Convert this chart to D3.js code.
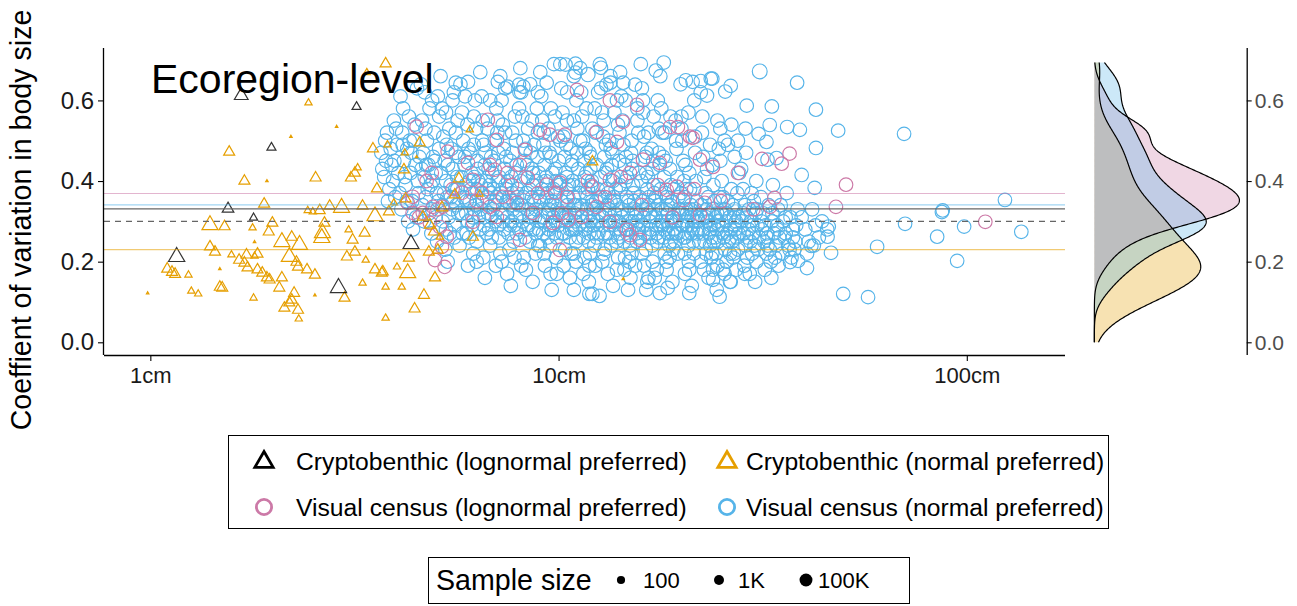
<!DOCTYPE html>
<html><head><meta charset="utf-8">
<script src="https://cdn.jsdelivr.net/npm/d3@7"></script>
<style>
body{margin:0;background:#fff}
svg text{font-family:"Liberation Sans",Arial,Helvetica,sans-serif}
</style></head><body>
<svg id="chart" width="1297" height="606"></svg>
<script>
// Each point: [mean body length (cm), coefficient of variation in body size, sample size]
// Visual-census points without a third value use the typical census sample size.
const typicalCensusN = 1e4;

const cryptoLognormal = [
  [1.67,0.612,300],[3.20,0.584,12],[1.98,0.483,12],[1.55,0.331,60],[1.79,0.309,8],
  [1.16,0.212,3000],[2.89,0.135,3000],[4.35,0.244,2000]
];

const cryptoNormal = [
  [3.77,0.691,40],[3.39,0.669,5],[2.44,0.594,5],[2.86,0.535,1.2],[2.21,0.51,1.2],[1.56,0.472,40],
  [3.51,0.48,40],[3.81,0.49,5],[4.18,0.428,40],[3.22,0.433,5],[3.17,0.42,40],[3.10,0.408,40],
  [2.54,0.408,40],[1.70,0.40,40],[1.93,0.40,1.2],[3.59,0.381,40],[1.90,0.343,40],[2.43,0.327,5],
  [2.50,0.324,5],[2.60,0.327,40],[2.75,0.338,40],[2.94,0.334,2500],[3.31,0.338,40],[3.55,0.313,2500],
  [3.84,0.324,40],[3.95,0.346,5],[4.22,0.356,40],[1.40,0.291,2500],[1.52,0.287,40],[1.78,0.284,5],
  [1.99,0.296,40],[1.95,0.274,40],[2.67,0.296,40],[2.64,0.271,2500],[2.63,0.259,2500],[3.06,0.279,5],
  [3.35,0.271,40],[1.40,0.237,40],[2.10,0.249,2500],[2.22,0.261,40],[2.32,0.242,2500],[3.13,0.254,40],
  [1.44,0.224,40],[1.58,0.217,5],[1.80,0.249,1.2],[1.72,0.217,40],[1.80,0.214,5],[1.83,0.219,40],
  [2.19,0.212,2500],[3.03,0.212,40],[3.17,0.224,40],[3.43,0.232,1.2],[3.37,0.204,5],[4.30,0.209,40],
  [1.65,0.204,40],[1.70,0.197,40],[1.73,0.185,40],[2.28,0.199,40],[2.30,0.187,40],[1.10,0.182,40],
  [1.13,0.174,40],[1.15,0.169,40],[1.24,0.167,5],[1.48,0.182,1.2],[1.83,0.18,40],[1.88,0.172,40],
  [1.93,0.16,40],[1.96,0.155,40],[2.10,0.16,40],[2.42,0.18,40],[2.53,0.167,40],[3.55,0.18,40],
  [3.69,0.172,40],[4.02,0.187,5],[4.27,0.172,2500],[4.98,0.16,40],[1.48,0.137,40],[1.50,0.135,40],
  [1.26,0.127,5],[1.31,0.12,5],[0.985,0.122,1.2],[2.07,0.135,40],[2.25,0.122,40],[2.22,0.105,40],
  [2.19,0.098,40],[2.13,0.085,40],[2.30,0.08,40],[2.31,0.058,5],[2.99,0.11,40],[3.31,0.147,5],
  [3.77,0.137,5],[3.77,0.06,5],[4.13,0.137,5],[4.44,0.083,40],[4.68,0.117,40],[1.79,0.11,5],
  [2.53,0.117,1.2],[4.20,0.47,5],[4.49,0.46,1.2],[4.57,0.495,40],[5.70,0.406,40],[6.06,0.527,5],
  [5.57,0.366,40],[6.41,0.368,5],[12.1,0.448,40],[5.18,0.334,40],[4.65,0.311,40],[4.84,0.291,40],
  [4.95,0.274,40],[5.12,0.261,5],[6.17,0.261,40],[4.81,0.224,40],[5.06,0.229,40],[3.71,0.175,40],
  [14.4,0.157,1.2]
];

const visualLognormal = [
  [11.09,0.626],[13.36,0.60],[15.56,0.589],[14.38,0.547],[18.74,0.534],[19.6,0.534],[21.3,0.507],
  [13.9,0.497],[12.4,0.522],[9.52,0.515],[10.36,0.515],[9.0,0.527],[6.71,0.552],[7.06,0.502],
  [4.49,0.535],[5.35,0.473],[8.27,0.477],[8.04,0.44],[6.0,0.445],[4.89,0.42],[6.79,0.44],[6.98,0.428],
  [7.69,0.39],[8.41,0.408],[9.35,0.391],[10.07,0.396],[10.48,0.361],[9.8,0.371],[12.4,0.336],
  [11.4,0.311],[12.1,0.386],[13.36,0.403],[14.95,0.42],[16.1,0.453],[17.7,0.445],[18.4,0.378],
  [19.5,0.386],[20.2,0.353],[14.7,0.279],[14.95,0.266],[13.36,0.299],[10.56,0.304],[9.68,0.296],
  [8.65,0.321],[7.9,0.346],[7.3,0.361],[6.49,0.371],[6.17,0.403],[5.8,0.371],[5.2,0.336],[4.92,0.336],
  [4.65,0.321],[4.39,0.321],[4.27,0.346],[4.39,0.361],[4.84,0.296],[5.12,0.286],[5.32,0.262],
  [5.18,0.237],[4.98,0.204],[5.26,0.187],[6.17,0.299],[6.79,0.336],[7.06,0.311],[22.8,0.346],
  [22.2,0.453],[20.98,0.51],[23.9,0.435],[31.5,0.455],[36.8,0.468],[35.2,0.443],[50.6,0.391],
  [47.8,0.336],[111,0.299],[33.8,0.358],[32.95,0.336],[22.2,0.316],[10.07,0.229],[8.04,0.254],
  [15.82,0.254],
  [4.55,0.31],[4.75,0.40],[5.05,0.33],[5.5,0.38],[6.3,0.35],[7.5,0.42],[8.9,0.37],[10.2,0.32],
  [11.8,0.40],[13.0,0.36],[14.2,0.41],[16.0,0.34],[17.5,0.39],[19.0,0.31],[21.5,0.38],[25.0,0.35],
  [27.5,0.42],[30.0,0.33]
];

const visualNormal = [
  [3.68,0.47],[3.74,0.41],[3.8,0.52],[3.85,0.38],[3.9,0.44],[3.95,0.55],[3.98,0.36],[4.02,0.49],[4.05,0.42],[3.78,0.45],
  [4.1,0.61],[4.14,0.52],[4.18,0.45],[4.22,0.39],[4.26,0.48],[4.3,0.56],[4.34,0.42],[4.38,0.35],[4.42,0.5],[4.46,0.44],
  [4.5,0.63],[4.54,0.37],[4.12,0.33],[4.2,0.41],[4.28,0.3],[4.36,0.47],[4.44,0.54],[4.52,0.4],[4.16,0.58],[4.4,0.28],
  [4.6,0.64],[4.63,0.55],[4.66,0.47],[4.7,0.41],[4.73,0.36],[4.76,0.5],[4.8,0.44],[4.83,0.58],[4.86,0.39],[4.9,0.33],
  [4.93,0.46],[4.96,0.52],[5.0,0.42],[5.03,0.37],[5.06,0.61],[5.1,0.48],[4.62,0.43],[4.68,0.3],[4.78,0.38],[4.88,0.27],
  [4.98,0.45],[5.08,0.35],[4.72,0.53],[4.92,0.4],[5.04,0.25],
  [5.14,0.66],[5.18,0.58],[5.22,0.51],[5.26,0.45],[5.3,0.4],[5.34,0.36],[5.38,0.31],[5.42,0.27],[5.46,0.48],[5.5,0.43],
  [5.54,0.62],[5.58,0.38],[5.62,0.34],[5.66,0.55],[5.7,0.46],[5.16,0.42],[5.24,0.37],[5.32,0.49],[5.4,0.53],[5.48,0.33],
  [5.56,0.29],[5.64,0.41],[5.72,0.24],[5.2,0.3],[5.28,0.23],[5.36,0.44],[5.44,0.39],[5.52,0.35],[5.6,0.47],[5.68,0.32],
  [5.35,0.2],[5.5,0.6],
  [5.75,0.64],[5.8,0.57],[5.84,0.5],[5.88,0.44],[5.92,0.39],[5.96,0.35],[6.0,0.3],[6.04,0.26],[6.08,0.47],[6.12,0.42],
  [6.16,0.37],[6.2,0.33],[6.24,0.6],[6.28,0.53],[6.32,0.45],[6.36,0.4],[6.4,0.28],[5.78,0.41],[5.86,0.36],[5.94,0.32],
  [6.02,0.48],[6.1,0.38],[6.18,0.22],[6.26,0.34],[6.34,0.43],[5.82,0.27],[5.9,0.46],[5.98,0.54],[6.06,0.35],[6.14,0.29],
  [6.22,0.41],[6.3,0.38],[6.38,0.31],[6.0,0.19],[6.2,0.49],
  [6.43,0.67],[6.48,0.61],[6.52,0.55],[6.56,0.49],[6.6,0.44],[6.64,0.4],[6.68,0.36],[6.72,0.32],[6.76,0.28],[6.8,0.24],
  [6.84,0.46],[6.88,0.42],[6.92,0.38],[6.96,0.34],[7.0,0.3],[7.04,0.58],[7.08,0.52],[7.12,0.47],[7.16,0.41],[6.45,0.39],
  [6.5,0.35],[6.58,0.31],[6.66,0.27],[6.74,0.43],[6.82,0.37],[6.9,0.33],[6.98,0.5],[7.06,0.36],[7.14,0.29],[6.54,0.21],
  [6.62,0.47],[6.7,0.53],[6.78,0.39],[6.86,0.26],[6.94,0.45],[7.02,0.19],[7.1,0.4],[6.6,0.16],
  [7.2,0.66],[7.25,0.6],[7.3,0.54],[7.34,0.48],[7.38,0.43],[7.42,0.39],[7.46,0.35],[7.5,0.31],[7.54,0.27],[7.58,0.23],
  [7.62,0.45],[7.66,0.41],[7.7,0.37],[7.74,0.33],[7.78,0.29],[7.82,0.56],[7.86,0.5],[7.9,0.44],[7.94,0.38],[7.98,0.34],
  [8.02,0.62],[7.22,0.37],[7.28,0.32],[7.36,0.28],[7.44,0.46],[7.52,0.4],[7.6,0.34],[7.68,0.3],[7.76,0.25],[7.84,0.42],
  [7.92,0.36],[8.0,0.28],[7.26,0.2],[7.4,0.52],[7.56,0.36],[7.72,0.47],[7.88,0.31],[7.48,0.17],[7.8,0.21],[7.64,0.14],
  [8.06,0.68],[8.1,0.62],[8.15,0.56],[8.2,0.5],[8.25,0.45],[8.3,0.41],[8.35,0.37],[8.4,0.33],[8.45,0.29],[8.5,0.25],
  [8.55,0.47],[8.6,0.43],[8.65,0.39],[8.7,0.35],[8.75,0.31],[8.8,0.27],[8.85,0.58],[8.9,0.52],[8.95,0.42],[8.98,0.36],
  [8.08,0.4],[8.12,0.34],[8.18,0.3],[8.28,0.26],[8.38,0.44],[8.48,0.38],[8.58,0.32],[8.68,0.28],[8.78,0.22],[8.88,0.46],
  [8.96,0.3],[8.22,0.21],[8.42,0.53],[8.62,0.36],[8.82,0.4],[8.32,0.18],[8.72,0.49],[8.92,0.24],[8.52,0.64],[8.64,0.15],
  [9.02,0.67],[9.07,0.61],[9.12,0.55],[9.18,0.49],[9.24,0.44],[9.3,0.4],[9.36,0.36],[9.42,0.32],[9.48,0.28],[9.54,0.24],
  [9.6,0.46],[9.66,0.42],[9.72,0.38],[9.78,0.34],[9.84,0.3],[9.9,0.26],[9.96,0.51],[10.02,0.45],[10.06,0.39],[9.04,0.35],
  [9.1,0.31],[9.16,0.27],[9.22,0.22],[9.28,0.47],[9.34,0.41],[9.4,0.37],[9.46,0.33],[9.52,0.29],[9.58,0.58],[9.64,0.35],
  [9.7,0.31],[9.76,0.27],[9.82,0.43],[9.88,0.37],[9.94,0.33],[10.0,0.29],[9.26,0.19],[9.56,0.17],[9.86,0.21],[9.44,0.53],
  [9.74,0.69],[9.62,0.13],
  [10.1,0.69],[10.15,0.63],[10.22,0.57],[10.28,0.51],[10.34,0.46],[10.4,0.42],[10.46,0.38],[10.52,0.34],[10.58,0.3],[10.64,0.26],
  [10.7,0.48],[10.76,0.44],[10.82,0.4],[10.88,0.36],[10.94,0.32],[11.0,0.28],[11.06,0.6],[11.12,0.53],[11.18,0.43],[11.24,0.37],
  [10.12,0.4],[10.18,0.35],[10.26,0.31],[10.32,0.27],[10.38,0.23],[10.44,0.49],[10.5,0.41],[10.56,0.36],[10.62,0.32],[10.68,0.28],
  [10.74,0.22],[10.8,0.45],[10.86,0.39],[10.92,0.34],[10.98,0.3],[11.04,0.25],[11.1,0.47],[11.16,0.33],[11.22,0.29],[10.3,0.19],
  [10.66,0.16],[11.02,0.2],[10.48,0.55],[10.9,0.66],
  [11.3,0.68],[11.36,0.62],[11.42,0.56],[11.48,0.5],[11.54,0.45],[11.6,0.41],[11.66,0.37],[11.72,0.33],[11.78,0.29],[11.84,0.25],
  [11.9,0.47],[11.96,0.43],[12.02,0.39],[12.08,0.35],[12.14,0.31],[12.2,0.27],[12.26,0.58],[12.32,0.52],[12.4,0.44],[12.48,0.38],
  [12.56,0.32],[11.32,0.39],[11.38,0.34],[11.46,0.3],[11.52,0.26],[11.58,0.21],[11.64,0.48],[11.7,0.42],[11.76,0.36],[11.82,0.31],
  [11.88,0.27],[11.94,0.22],[12.0,0.46],[12.06,0.4],[12.12,0.34],[12.18,0.29],[12.24,0.24],[12.36,0.35],[12.44,0.3],[12.52,0.27],
  [11.5,0.17],[11.86,0.15],[12.3,0.19],[12.1,0.12],
  [12.62,0.69],[12.7,0.63],[12.78,0.57],[12.86,0.51],[12.94,0.46],[13.02,0.42],[13.1,0.38],[13.18,0.34],[13.26,0.3],[13.34,0.26],
  [13.42,0.48],[13.5,0.44],[13.58,0.4],[13.66,0.36],[13.74,0.32],[13.82,0.28],[13.9,0.6],[13.98,0.54],[14.06,0.45],[14.12,0.39],
  [12.66,0.41],[12.74,0.36],[12.82,0.31],[12.9,0.27],[12.98,0.23],[13.06,0.49],[13.14,0.43],[13.22,0.37],[13.3,0.33],[13.38,0.29],
  [13.46,0.24],[13.54,0.47],[13.62,0.41],[13.7,0.35],[13.78,0.3],[13.86,0.25],[13.94,0.34],[14.02,0.3],[14.1,0.27],[12.8,0.2],
  [13.2,0.17],[13.6,0.14],[14.0,0.21],[13.4,0.66],
  [14.15,0.67],[14.24,0.61],[14.33,0.55],[14.42,0.49],[14.51,0.44],[14.6,0.4],[14.69,0.36],[14.78,0.32],[14.87,0.28],[14.96,0.24],
  [15.05,0.47],[15.14,0.43],[15.23,0.39],[15.32,0.35],[15.41,0.31],[15.5,0.27],[15.59,0.58],[15.68,0.52],[15.76,0.42],[15.8,0.36],
  [14.2,0.38],[14.28,0.33],[14.37,0.29],[14.46,0.25],[14.55,0.21],[14.64,0.46],[14.73,0.41],[14.82,0.35],[14.91,0.3],[15.0,0.26],
  [15.09,0.22],[15.18,0.45],[15.27,0.37],[15.36,0.33],[15.45,0.29],[15.54,0.25],[15.63,0.3],[15.72,0.28],[14.5,0.18],[15.0,0.16],
  [15.4,0.19],[14.8,0.13],
  [15.9,0.69],[16.0,0.63],[16.1,0.57],[16.2,0.51],[16.3,0.46],[16.4,0.42],[16.5,0.38],[16.6,0.34],[16.7,0.3],[16.8,0.26],
  [16.9,0.48],[17.0,0.43],[17.1,0.39],[17.2,0.35],[17.3,0.31],[17.4,0.27],[17.5,0.6],[17.6,0.53],[17.68,0.44],[15.95,0.4],
  [16.05,0.35],[16.15,0.31],[16.25,0.27],[16.35,0.23],[16.45,0.47],[16.55,0.41],[16.65,0.36],[16.75,0.32],[16.85,0.28],[16.95,0.24],
  [17.05,0.45],[17.15,0.37],[17.25,0.33],[17.35,0.29],[17.45,0.25],[17.55,0.34],[17.65,0.29],[16.2,0.19],[16.6,0.16],[17.0,0.2],
  [17.4,0.18],[16.4,0.13],
  [17.75,0.66],[17.85,0.58],[17.95,0.52],[18.05,0.46],[18.15,0.41],[18.25,0.37],[18.35,0.33],[18.45,0.3],[18.55,0.27],[18.65,0.24],
  [18.75,0.43],[18.85,0.39],[18.95,0.35],[19.05,0.31],[19.15,0.28],[19.25,0.25],[19.35,0.55],[19.45,0.48],[19.55,0.41],[19.65,0.36],
  [19.75,0.32],[17.8,0.38],[17.9,0.33],[18.0,0.29],[18.1,0.26],[18.2,0.22],[18.3,0.45],[18.4,0.36],[18.5,0.32],[18.6,0.29],
  [18.7,0.21],[18.8,0.34],[18.9,0.3],[19.0,0.27],[19.1,0.23],[19.2,0.38],[19.4,0.3],[19.6,0.27],[18.4,0.18],[19.0,0.15],
  [19.9,0.64],[20.0,0.56],[20.1,0.5],[20.2,0.45],[20.3,0.4],[20.4,0.36],[20.5,0.33],[20.6,0.3],[20.7,0.27],[20.8,0.24],
  [20.9,0.42],[21.0,0.38],[21.1,0.34],[21.2,0.31],[21.3,0.28],[21.4,0.25],[21.5,0.6],[21.6,0.47],[21.7,0.4],[21.8,0.35],
  [21.9,0.31],[22.0,0.28],[22.1,0.25],[19.95,0.37],[20.05,0.32],[20.15,0.29],[20.25,0.26],[20.35,0.22],[20.45,0.44],[20.55,0.38],
  [20.65,0.32],[20.75,0.29],[20.85,0.2],[21.05,0.33],[21.25,0.29],[21.45,0.22],[21.65,0.3],[21.85,0.27],[20.4,0.17],[21.2,0.14],
  [22.3,0.62],[22.45,0.52],[22.6,0.46],[22.75,0.41],[22.9,0.37],[23.05,0.33],[23.2,0.3],[23.35,0.27],[23.5,0.24],[23.65,0.21],
  [23.8,0.44],[23.95,0.39],[24.1,0.35],[24.25,0.31],[24.4,0.28],[24.55,0.25],[24.7,0.48],[24.8,0.36],[22.35,0.34],[22.5,0.31],
  [22.65,0.28],[22.8,0.25],[22.95,0.22],[23.1,0.43],[23.25,0.36],[23.4,0.32],[23.55,0.29],[23.7,0.26],[23.85,0.33],[24.0,0.29],
  [24.15,0.26],[24.3,0.22],[24.45,0.32],[24.6,0.29],[22.7,0.18],[23.3,0.16],[23.9,0.18],[24.5,0.19],
  [24.9,0.45],[25.1,0.4],[25.3,0.36],[25.5,0.33],[25.7,0.3],[25.9,0.27],[26.1,0.25],[26.3,0.22],[26.5,0.38],[26.7,0.34],
  [26.9,0.31],[27.1,0.28],[27.3,0.26],[27.5,0.23],[27.7,0.42],[25.0,0.32],[25.2,0.29],[25.4,0.26],[25.6,0.23],[25.8,0.2],
  [26.0,0.35],[26.2,0.31],[26.4,0.28],[26.6,0.25],[26.8,0.21],[27.0,0.33],[27.2,0.3],[27.4,0.37],[27.6,0.31],[25.5,0.17],
  [26.4,0.15],[27.2,0.18],[26.0,0.49],[27.0,0.46],
  [28.0,0.43],[28.3,0.38],[28.6,0.34],[28.9,0.31],[29.2,0.28],[29.5,0.25],[29.8,0.22],[30.1,0.35],[30.4,0.32],[30.7,0.29],
  [31.0,0.26],[28.1,0.3],[28.4,0.27],[28.7,0.24],[29.0,0.21],[29.3,0.33],[29.6,0.3],[29.9,0.27],[30.2,0.24],[30.5,0.4],
  [30.8,0.23],[28.5,0.19],[29.4,0.17],[30.3,0.15],[28.8,0.47],[29.7,0.37],
  [31.3,0.36],[31.7,0.32],[32.1,0.29],[32.5,0.26],[32.9,0.23],[33.3,0.3],[33.7,0.27],[34.1,0.24],[34.5,0.33],[31.5,0.28],
  [31.9,0.25],[32.3,0.22],[32.7,0.34],[33.1,0.2],[33.5,0.39],[33.9,0.21],[34.3,0.29],[34.7,0.26],[32.0,0.18],[33.2,0.16],
  [35.0,0.34],[35.5,0.3],[36.0,0.27],[36.5,0.24],[37.0,0.31],[37.5,0.28],[38.0,0.25],[38.5,0.33],[35.3,0.22],[36.2,0.37],
  [37.2,0.21],[38.2,0.29],[35.8,0.26],[37.8,0.23],
  [39.4,0.31],[40.2,0.28],[41.0,0.25],[41.8,0.33],[42.6,0.29],[43.4,0.26],[44.2,0.3],[40.6,0.22],[42.2,0.24],[45.5,0.28],
  [31.1,0.672,6e4],[38.4,0.644],[42.7,0.577],[48.4,0.525],[70.2,0.517],[124,0.353],[86.9,0.323],[87.3,0.327],[70.6,0.294],
  [98.5,0.287],[136,0.274],[84.6,0.262],[60.3,0.237],[94.7,0.202],[49.8,0.12],[57.3,0.112],[46.5,0.222],[45.6,0.262],
  [45.9,0.287],[41.6,0.239],[40.6,0.184],[36.9,0.199],[38.6,0.202],[24.8,0.113],[24.4,0.13],[23.9,0.155],[39.4,0.415],
  [42.4,0.383],[42.7,0.482],[39.0,0.527],[36.3,0.534],[32.9,0.539],[28.9,0.587],[33.3,0.585],[24.9,0.53],[28.7,0.53],
  [26.4,0.636],[25.6,0.622],[23.1,0.612],[23.8,0.654],[30.9,0.517],[32.3,0.497],[34.2,0.457],[32.5,0.453],
  [10.4,0.689],[11.0,0.691],[11.0,0.669],[11.8,0.664,3e4],[12.7,0.681],[17.3,0.674],[18.1,0.694],[20.5,0.65],[21.3,0.646],
  [22.3,0.648],[23.6,0.654],[7.1,0.646],[7.5,0.634],[6.0,0.646],[5.6,0.644],[8.0,0.639],[8.2,0.634],[9.35,0.644],[13.1,0.639],
  [13.4,0.644],[14.4,0.644],[15.4,0.639],
  [10.9,0.13],[11.9,0.12],[12.6,0.115],[16.5,0.15],[17.7,0.122],[18.5,0.135],[20.9,0.122],[26.3,0.15],
  [3.7,0.43],[3.76,0.5],[3.82,0.35],[3.88,0.48],[3.93,0.4],[4.0,0.53],[4.08,0.37],[4.15,0.49],[4.24,0.35],[4.32,0.5],
  [4.48,0.31],[4.56,0.46],[4.64,0.34],[4.74,0.44],[4.82,0.32],[4.9,0.6],[5.0,0.31],[5.1,0.56],[4.7,0.62],[3.96,0.45],
  [5.2,0.34],[5.3,0.28],[5.45,0.36],[5.55,0.26],[5.65,0.38],[5.8,0.32],[5.95,0.27],[6.05,0.4],[6.15,0.31],[6.3,0.25],
  [6.45,0.33],[6.55,0.29],[6.7,0.38],[6.85,0.31],[7.0,0.35],[7.15,0.26],[7.3,0.3],[7.45,0.38],[7.6,0.29],[7.75,0.35],
  [7.9,0.27],[8.05,0.32],[8.2,0.36],[8.35,0.28],[8.5,0.31],[8.65,0.42],[8.8,0.33],[8.95,0.28],[9.1,0.38],[9.25,0.3],
  [9.4,0.26],[9.55,0.34],[9.7,0.29],[9.85,0.4],[10.0,0.32],[10.2,0.27],[10.4,0.31],[10.6,0.39],[10.8,0.28],[11.0,0.34],
  [11.2,0.26],[11.4,0.31],[11.6,0.28],[11.8,0.38],[12.0,0.3],[12.2,0.33],[12.4,0.26],[12.6,0.36],[12.8,0.29],[13.0,0.32],
  [13.2,0.27],[13.4,0.35],[13.6,0.3],[13.8,0.38],[14.0,0.26],[14.3,0.31],[14.6,0.28],[14.9,0.34],[15.2,0.3],[15.5,0.32],
  [15.8,0.26],[16.1,0.29],[16.4,0.33],[16.7,0.27],[17.0,0.31],[17.3,0.36],[17.6,0.26],[17.9,0.3],[18.2,0.28],[18.5,0.34],
  [18.8,0.25],[19.1,0.31],[19.4,0.27],[19.7,0.33],[20.0,0.29],[20.4,0.26],[20.8,0.31],[21.2,0.27],[21.6,0.33],[22.0,0.3],
  [22.5,0.27],[23.0,0.31],[23.5,0.28],[24.0,0.25],[24.6,0.3],[25.2,0.27],[25.8,0.32],[26.4,0.26],[27.0,0.29],[27.6,0.27],
  [28.3,0.32],[29.0,0.26],[29.8,0.29],[30.6,0.33],[31.4,0.3],[32.4,0.27],[33.4,0.32],[34.4,0.28],[36.0,0.31],[37.5,0.26],
  [5.3,0.57],[5.6,0.52],[5.9,0.61],[6.2,0.56],[6.5,0.5],[6.8,0.6],[7.1,0.55],[7.4,0.63],[7.7,0.52],[8.0,0.58],
  [8.3,0.48],[8.6,0.55],[8.9,0.62],[9.2,0.52],[9.5,0.47],[9.8,0.56],[10.1,0.5],[10.5,0.62],[10.9,0.55],[11.3,0.5],
  [11.7,0.58],[12.1,0.53],[12.5,0.62],[12.9,0.55],[13.3,0.5],[13.7,0.57],[14.1,0.52],[14.6,0.6],[15.1,0.5],[15.6,0.55],
  [16.1,0.6],[16.6,0.52],[17.1,0.56],[17.6,0.47],[18.2,0.52],[18.8,0.56],[19.4,0.5],[20.0,0.53],[20.8,0.57],[21.6,0.51],
  [22.5,0.56],[23.5,0.49],[24.5,0.55],[25.5,0.5],[26.5,0.54],[27.5,0.5],
  [6.3,0.2],[7.2,0.22],[8.1,0.19],[9.0,0.24],[9.9,0.17],[10.9,0.22],[11.9,0.19],[12.9,0.22],[13.9,0.18],[14.9,0.2],
  [16.0,0.22],[17.2,0.16],[18.4,0.2],[19.6,0.22],[20.9,0.18],[22.3,0.2],[23.8,0.22],[25.3,0.18],[26.9,0.22],[28.6,0.17],
  [30.5,0.2],[32.5,0.24],[34.6,0.19],[36.8,0.23]
];

// Group-level mean CV lines and the overall reference level
const groupKeys = ["cryptoLognormal","cryptoNormal","visualLognormal","visualNormal"];
const groupLabels = ["Cryptobenthic (lognormal preferred)","Cryptobenthic (normal preferred)",
                     "Visual census (lognormal preferred)","Visual census (normal preferred)"];
const groupMeanCV = [0.331, 0.23, 0.369, 0.341];
const referenceCV = 0.30;

const xTickValues = [1, 10, 100];
const xTickLabels = ["1cm","10cm","100cm"];
const yTickValues = [0, 0.2, 0.4, 0.6];
const sizeBreaks = [100, 1000, 100000];
const sizeBreakLabels = ["100","1K","100K"];

// ---------- drawing ----------
const groupData = {cryptoLognormal, cryptoNormal, visualLognormal, visualNormal};
const colors = {cryptoLognormal:"#000000", cryptoNormal:"#E69F00", visualLognormal:"#CC79A7", visualNormal:"#56B4E9"};
const isTriangle = k => k.startsWith("crypto");

const svg = d3.select("#chart");
const panel = {left:104, right:1065, top:48, bottom:355};

const x = d3.scaleLog().domain([0.77, 174]).range([panel.left, panel.right]);
const y = d3.scaleLinear().domain([-0.0315, 0.73]).range([panel.bottom, panel.top]);
const sizeScale = d3.scaleSqrt().domain([0, 5]).range([0, 7.6]);
const radius = n => sizeScale(Math.log10(n));

function trianglePath(R){
  const t = 1.5551*R, h = 1.3468*R, b = 0.7776*R;
  return `M0,${-t}L${h},${b}L${-h},${b}Z`;
}

const pts = svg.append("g");
["visualNormal","visualLognormal","cryptoNormal","cryptoLognormal"].forEach(k => {
  const g = pts.append("g");
  const rows = groupData[k].map(d => ({len:d[0], cv:d[1], n:d[2] ?? typicalCensusN}));
  if (isTriangle(k)) {
    g.selectAll("path").data(rows).join("path")
      .attr("transform", d => `translate(${x(d.len)},${y(d.cv)})`)
      .attr("d", d => trianglePath(radius(d.n) * 0.95))
      .attr("fill","none").attr("stroke", colors[k])
      .attr("stroke-width", 1.2).attr("stroke-opacity", k==="cryptoLognormal"?0.8:1);
  } else {
    g.selectAll("circle").data(rows).join("circle")
      .attr("cx", d => x(d.len)).attr("cy", d => y(d.cv))
      .attr("r", d => radius(d.n))
      .attr("fill","none").attr("stroke", colors[k]).attr("stroke-width", 1.15);
  }
});

// mean lines
const lineG = svg.append("g");
groupKeys.forEach((k,i) => {
  lineG.append("line").attr("x1", panel.left).attr("x2", panel.right)
    .attr("y1", y(groupMeanCV[i])).attr("y2", y(groupMeanCV[i]))
    .attr("stroke", k==="cryptoLognormal" ? "#666" : colors[k])
    .attr("stroke-opacity", k==="cryptoLognormal" ? 1 : 0.55).attr("stroke-width", 1.1);
});
lineG.append("line").attr("x1", panel.left).attr("x2", panel.right)
  .attr("y1", y(referenceCV)).attr("y2", y(referenceCV))
  .attr("stroke","#666").attr("stroke-width",1.1).attr("stroke-dasharray","6,5");

// axes
const xAxis = svg.append("g").attr("transform", `translate(0,${panel.bottom})`)
  .call(d3.axisBottom(x).tickValues(xTickValues).tickFormat((d,i)=>xTickLabels[i]).tickSizeOuter(0).tickSize(6).tickPadding(6));
const yAxis = svg.append("g").attr("transform", `translate(${panel.left},0)`)
  .call(d3.axisLeft(y).tickValues(yTickValues).tickFormat(d3.format(".1f")).tickSizeOuter(0).tickSize(6).tickPadding(4));
[xAxis, yAxis].forEach(a => {
  a.select(".domain").attr("stroke","#000").attr("stroke-width",1.3);
  a.selectAll(".tick line").attr("stroke","#000").attr("stroke-width",1.1);
  a.selectAll(".tick text").attr("fill","#1a1a1a").style("font-family","Liberation Sans, Arial, sans-serif");
});
xAxis.selectAll(".tick text").style("font-size","22px");
yAxis.selectAll(".tick text").style("font-size","24px");
xAxis.select(".domain").attr("d", `M${panel.left},0.5H${panel.right}`);
yAxis.select(".domain").attr("d", `M-0.5,${panel.top}V${panel.bottom}`);

// title inside panel
svg.append("text").attr("x",151).attr("y",93).text("Ecoregion-level")
  .style("font-size","41px").attr("fill","#000");

// y title
svg.append("text").attr("transform","translate(31,220) rotate(-90)").attr("text-anchor","middle")
  .style("font-size","28.6px").attr("fill","#000").text("Coeffient of variation in body size");

// ---------- marginal densities ----------
function bwNrd0(v){
  const s = v.slice().sort(d3.ascending);
  const sd = d3.deviation(s);
  const iqr = d3.quantile(s,0.75) - d3.quantile(s,0.25);
  let lo = Math.min(sd, iqr/1.34);
  if (!lo) lo = sd || Math.abs(s[0]) || 1;
  return 0.9*lo*Math.pow(s.length,-0.2);
}
function kde(v, grid){
  const bw = bwNrd0(v), c = 1/(bw*Math.sqrt(2*Math.PI)*v.length);
  return grid.map(g => [g, c*d3.sum(v, t => Math.exp(-0.5*((g-t)/bw)**2))]);
}
const densityKeys = ["cryptoNormal","visualLognormal","visualNormal"];
const allCV = groupKeys.flatMap(k => groupData[k].map(d => d[1]));
const gLo = 0, gHi = d3.max(allCV);
const grid = d3.range(512).map(i => gLo + i*(gHi-gLo)/511);
const dens = densityKeys.map(k => ({k, v: kde(groupData[k].map(d=>d[1]), grid)}));
const maxD = d3.max(dens, d => d3.max(d.v, p => p[1]));
const xd = d3.scaleLinear().domain([-0.05*maxD, 1.05*maxD]).range([1087.1, 1246.7]);

const mg = svg.append("g");
dens.forEach(d => {
  mg.append("path").datum(d.v)
    .attr("d", d3.area().y(p=>y(p[0])).x0(xd(0)).x1(p=>xd(p[1])))
    .attr("fill", colors[d.k]).attr("fill-opacity", 0.3).attr("stroke","none");
});
dens.forEach(d => {
  mg.append("path").datum(d.v)
    .attr("d", d3.line().y(p=>y(p[0])).x(p=>xd(p[1])))
    .attr("fill","none").attr("stroke","#000").attr("stroke-width",1.2);
});
const rAxis = svg.append("g").attr("transform","translate(1246.7,0)")
  .call(d3.axisRight(y).tickValues(yTickValues).tickFormat(d3.format(".1f")).tickSizeOuter(0).tickSize(5).tickPadding(3));
rAxis.select(".domain").attr("d", `M0.5,${panel.top}V${panel.bottom}`).attr("stroke","#000").attr("stroke-width",1.3);
rAxis.selectAll(".tick line").attr("stroke","#000").attr("stroke-width",1.1);
rAxis.selectAll(".tick text").attr("fill","#4d4d4d").style("font-size","21px").style("font-family","Liberation Sans, Arial, sans-serif");

// ---------- legends ----------
const leg = svg.append("g");
leg.append("rect").attr("x",228.5).attr("y",435.5).attr("width",880).attr("height",93)
  .attr("fill","#fff").attr("stroke","#000").attr("stroke-width",1);
const legendPos = [[264,461],[727,461],[264,507],[727,507]];
groupKeys.forEach((k,i) => {
  const [cx, cy] = legendPos[i];
  if (isTriangle(k)) {
    leg.append("path").attr("transform",`translate(${cx},${cy+1})`).attr("d", trianglePath(6.8))
      .attr("fill","none").attr("stroke",colors[k]).attr("stroke-width",2.8).attr("stroke-linejoin","miter");
  } else {
    leg.append("circle").attr("cx",cx).attr("cy",cy).attr("r",7.6)
      .attr("fill","none").attr("stroke",colors[k]).attr("stroke-width",2.8);
  }
  leg.append("text").attr("x", cx + (i%2===0 ? 32 : 19)).attr("y", cy+8.5)
    .style("font-size","24.7px").attr("fill","#000").text(groupLabels[i]);
});

const leg2 = svg.append("g");
leg2.append("rect").attr("x",428.5).attr("y",557.5).attr("width",481).attr("height",46)
  .attr("fill","#fff").attr("stroke","#000").attr("stroke-width",1);
leg2.append("text").attr("x",436).attr("y",590).style("font-size","28.6px").attr("fill","#000").text("Sample size");
const sizeKeyX = [621, 719, 806];
sizeBreaks.forEach((b,i) => {
  leg2.append("circle").attr("cx",sizeKeyX[i]).attr("cy",580).attr("r",radius(b)*0.85).attr("fill","#000");
  leg2.append("text").attr("x",sizeKeyX[i]+ (i===0?22:(i===1?19:12))).attr("y",588)
    .style("font-size","22px").attr("fill","#000").text(sizeBreakLabels[i]);
});
</script>
</body></html>
